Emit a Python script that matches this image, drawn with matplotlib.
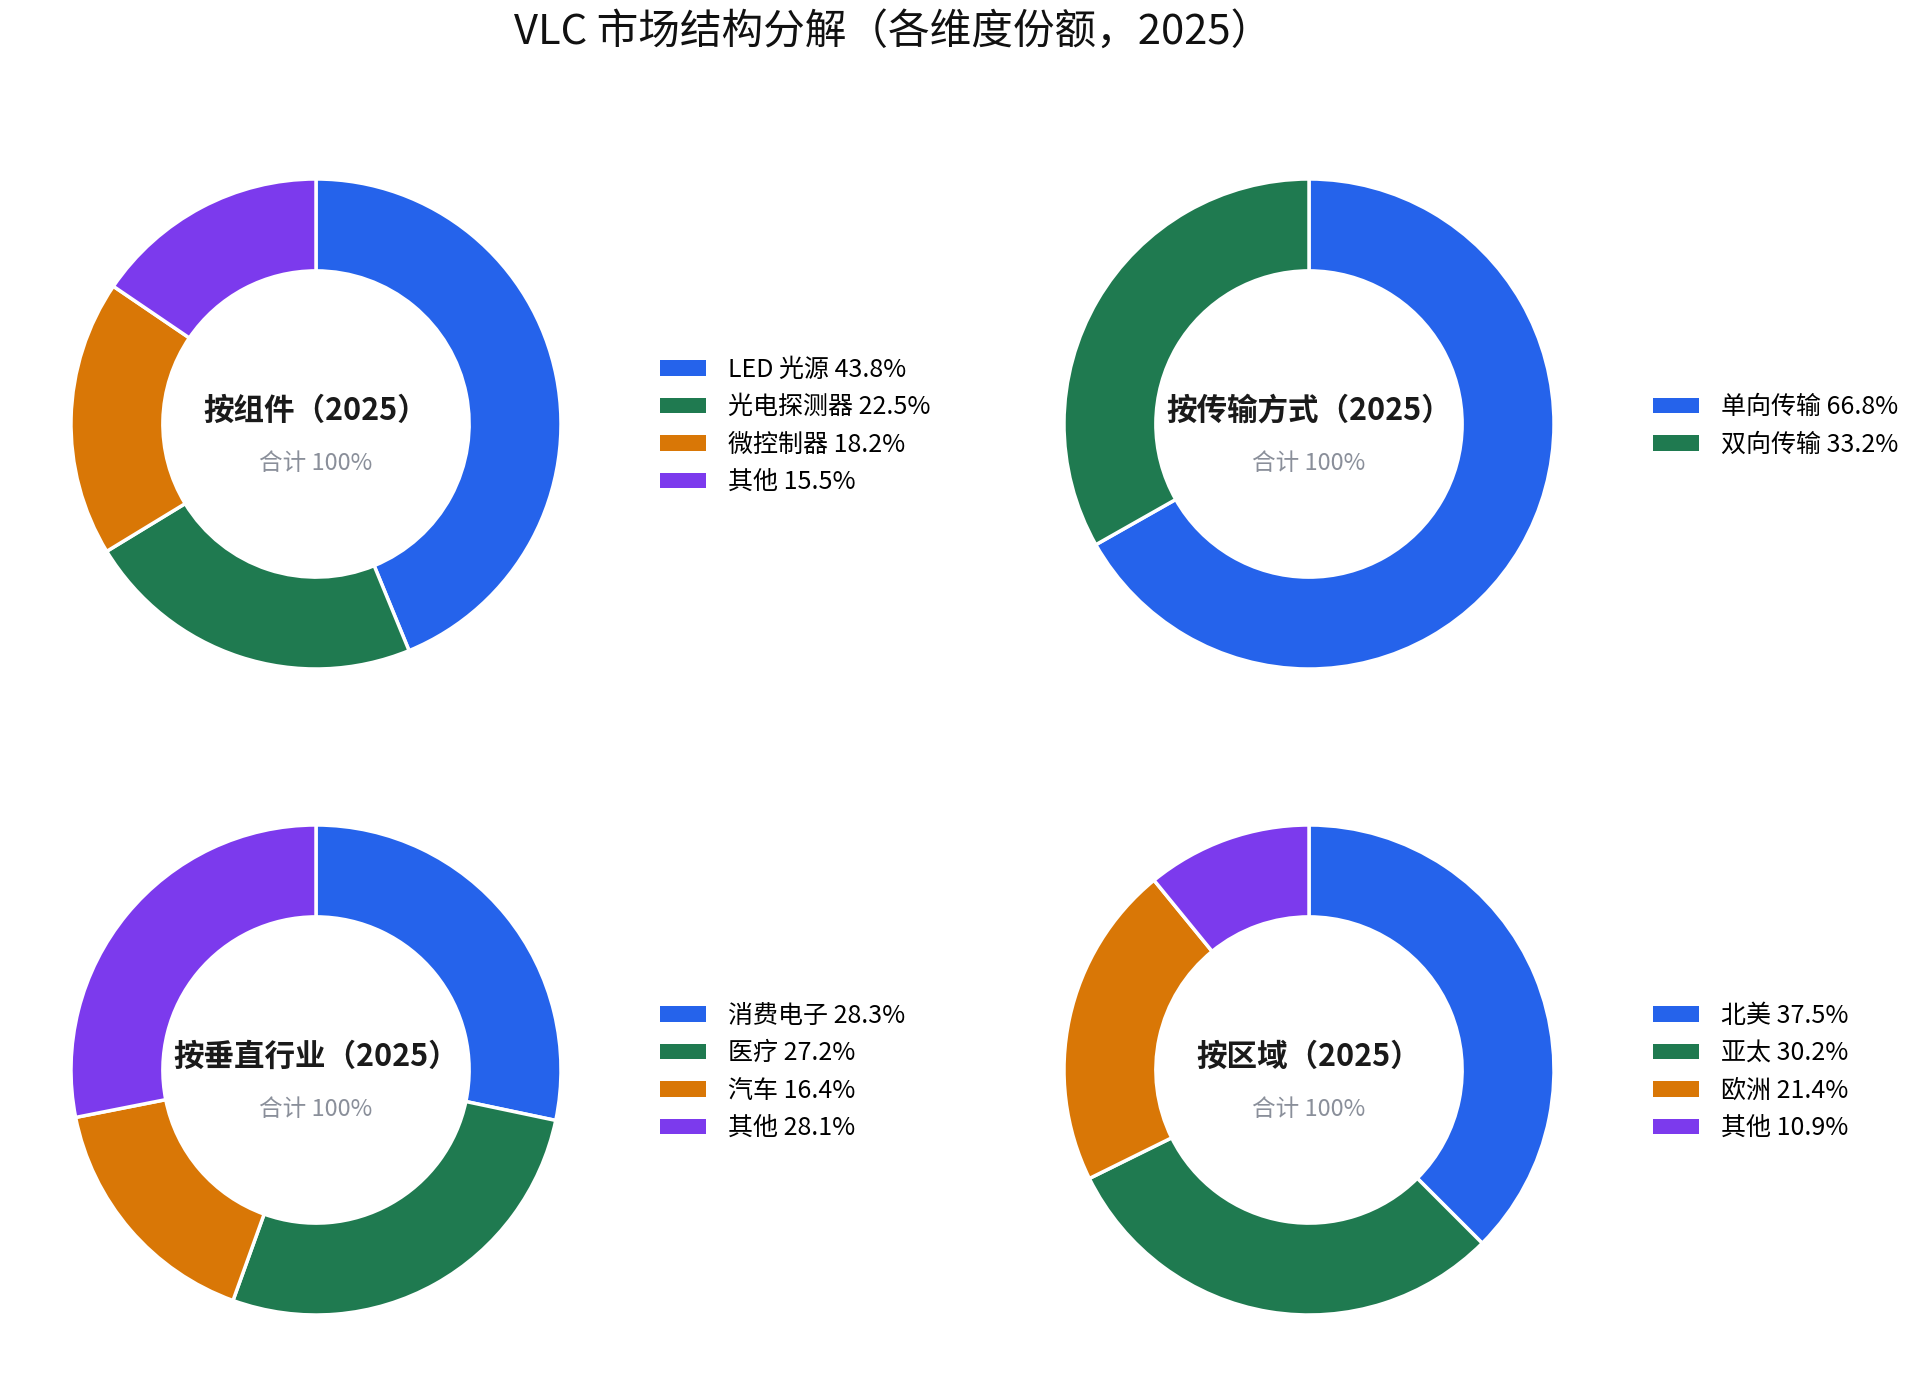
import matplotlib
matplotlib.use("Agg")
import matplotlib.pyplot as plt
from matplotlib.patches import Patch

plt.rcParams['font.family'] = ['Noto Sans CJK SC', 'DejaVu Sans']

# data per panel
comp_labels = ["LED 光源", "光电探测器", "微控制器", "其他"]
comp_values = [43.8, 22.5, 18.2, 15.5]

trans_labels = ["单向传输", "双向传输"]
trans_values = [66.8, 33.2]

vert_labels = ["消费电子", "医疗", "汽车", "其他"]
vert_values = [28.3, 27.2, 16.4, 28.1]

region_labels = ["北美", "亚太", "欧洲", "其他"]
region_values = [37.5, 30.2, 21.4, 10.9]

titles = ["按组件（2025）", "按传输方式（2025）", "按垂直行业（2025）", "按区域（2025）"]
colors = ["#2563EB", "#1F7A50", "#D97706", "#7C3AED"]

W, H = 1918, 1387
fig = plt.figure(figsize=(W / 100, H / 100), dpi=100)

fig.text(893 / W, 1 - 32 / H, "VLC 市场结构分解（各维度份额，2025）",
         ha='center', va='center', fontsize=30, color='#111111')

panels = [
    (comp_labels, comp_values, titles[0], (316, 424), 660),
    (trans_labels, trans_values, titles[1], (1309, 424), 1653),
    (vert_labels, vert_values, titles[2], (316, 1070), 660),
    (region_labels, region_values, titles[3], (1309, 1070), 1653),
]

R = 245  # outer radius in px
for labels, values, title, (cx, cy), lx in panels:
    pad = 1.02
    size = 2 * R * pad
    ax = fig.add_axes([(cx - size / 2) / W, (H - cy - size / 2) / H, size / W, size / H])
    ax.pie(values, colors=colors[:len(values)], startangle=90, counterclock=False,
           radius=1, wedgeprops=dict(width=0.375, edgecolor='white', linewidth=2.5))
    ax.set_xlim(-pad, pad)
    ax.set_ylim(-pad, pad)
    ax.set_aspect('equal')
    ax.axis('off')
    ax.text(0, 0.055, title, ha='center', va='center', fontsize=22,
            fontweight='bold', color='#1a1a1a')
    ax.text(0, -0.16, "合计 100%", ha='center', va='center', fontsize=17,
            color='#8a8f9a')

    handles = [Patch(facecolor=colors[i], edgecolor='none') for i in range(len(values))]
    leg_labels = [f"{l} {v:.1f}%" for l, v in zip(labels, values)]
    fig.legend(handles, leg_labels, loc='center left',
               bbox_to_anchor=(lx / W, 1 - (cy + 2) / H), frameon=False,
               fontsize=18, handlelength=1.85, handleheight=0.59,
               handletextpad=0.88, labelspacing=0.46, borderpad=0, borderaxespad=0)

fig.savefig("out.png", dpi=100)
